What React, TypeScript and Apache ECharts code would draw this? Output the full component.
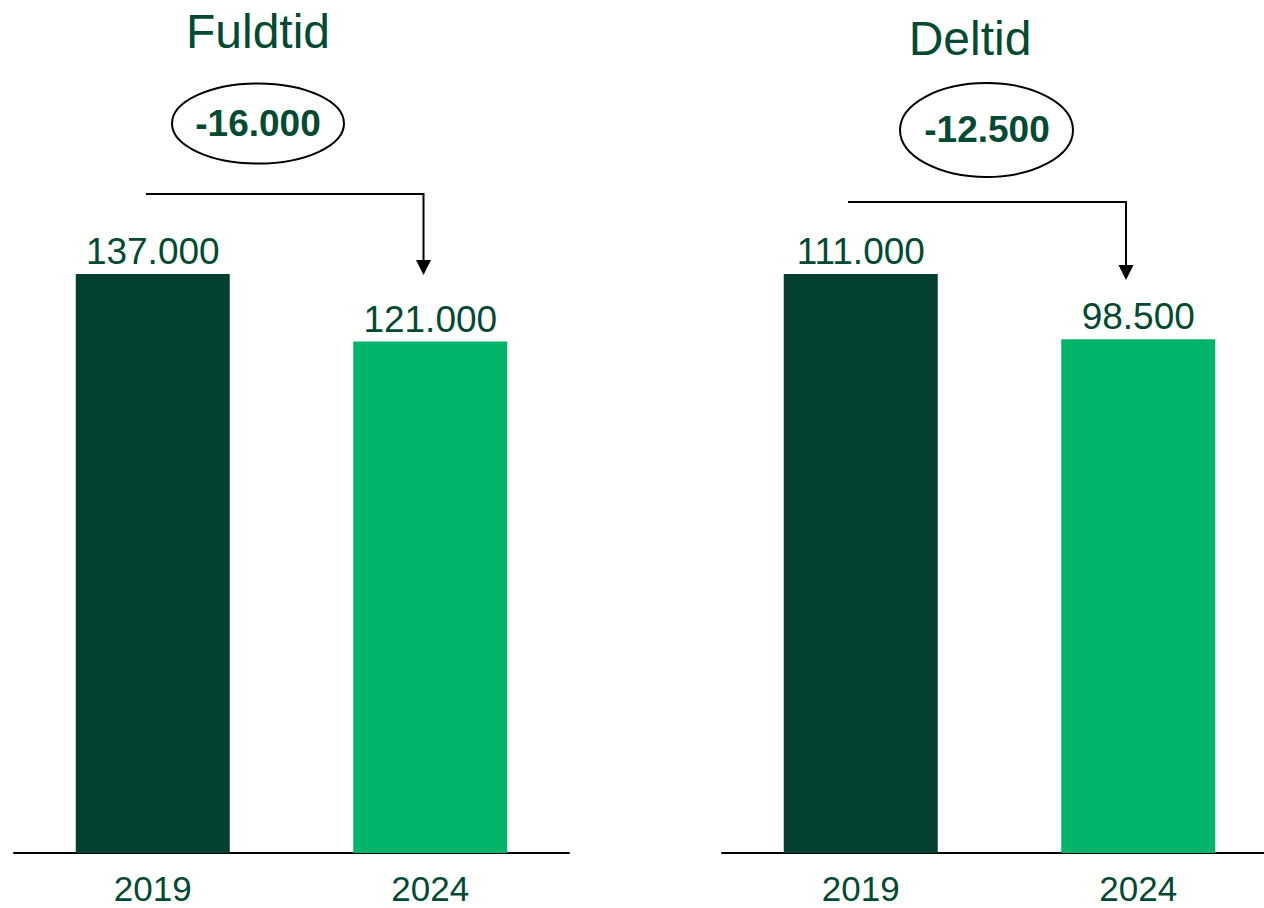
import React, { useEffect, useRef } from "react";
import * as echarts from "echarts";

const categories = ["2019", "2024"];
const fuldtidValues = [137000, 121000];
const deltidValues = [111000, 98500];
const panelTitles = ["Fuldtid", "Deltid"];
const barColors = ["#034030", "#00b56a"];
const textColor = "#034a33";
const FONT = "'Liberation Sans', Arial, sans-serif";

function fmt(v: number): string {
  const sign = v < 0 ? "-" : "";
  const s = Math.abs(Math.round(v)).toString();
  return sign + s.replace(/\B(?=(\d{3})+(?!\d))/g, ".");
}

export default function App() {
  const ref = useRef<HTMLDivElement>(null);
  useEffect(() => {
    if (!ref.current) return;
    const chart = echarts.init(ref.current, undefined, { renderer: "svg" });
    const fuldChange = fuldtidValues[1] - fuldtidValues[0];
    const delChange = deltidValues[1] - deltidValues[0];

    const makeSeries = (vals: number[], idx: number) => ({
      type: "bar",
      xAxisIndex: idx,
      yAxisIndex: idx,
      barWidth: 154,
      data: vals.map((v, i) => ({ value: v, itemStyle: { color: barColors[i] } })),
      label: {
        show: true,
        position: "top",
        distance: 4,
        color: textColor,
        fontSize: 37,
        fontFamily: FONT,
        formatter: (p: any) => fmt(p.value),
      },
    });

    const xAxis = (gi: number) => ({
      type: "category",
      gridIndex: gi,
      data: categories,
      axisLine: { show: true, lineStyle: { color: "#000", width: 2 } },
      axisTick: { show: false },
      axisLabel: { color: textColor, fontSize: 35, lineHeight: 28, fontFamily: FONT, margin: 21 },
      splitLine: { show: false },
    });
    const yAxis = (gi: number, max: number) => ({
      type: "value",
      gridIndex: gi,
      min: 0,
      max,
      show: false,
      splitLine: { show: false },
    });

    const arrow = (x0: number, x1: number, y: number, yEnd: number) => [
      {
        type: "polyline",
        shape: { points: [[x0, y], [x1, y], [x1, yEnd]] },
        style: { stroke: "#000", lineWidth: 2, fill: "none" },
      },
      {
        type: "polygon",
        shape: { points: [[x1 - 7.5, yEnd - 2], [x1 + 7.5, yEnd - 2], [x1, yEnd + 13]] },
        style: { fill: "#000" },
      },
    ];

    chart.setOption({
      animation: false,
      backgroundColor: "#fff",
      grid: [
        { left: 14, top: 274, width: 555, height: 579, containLabel: false, outerBoundsMode: "none" },
        { left: 722, top: 274, width: 555, height: 579, containLabel: false, outerBoundsMode: "none" },
      ],
      xAxis: [xAxis(0), xAxis(1)],
      yAxis: [yAxis(0, fuldtidValues[0]), yAxis(1, deltidValues[0])],
      series: [makeSeries(fuldtidValues, 0), makeSeries(deltidValues, 1)],
      graphic: [
        {
          type: "text",
          x: 258,
          y: 31,
          style: { text: panelTitles[0], fill: textColor, fontSize: 48, fontFamily: FONT, align: "center", verticalAlign: "middle" },
        },
        {
          type: "text",
          x: 970,
          y: 38,
          style: { text: panelTitles[1], fill: textColor, fontSize: 48, fontFamily: FONT, align: "center", verticalAlign: "middle" },
        },
        {
          type: "ellipse",
          shape: { cx: 258, cy: 123.5, rx: 86, ry: 40 },
          style: { fill: "none", stroke: "#000", lineWidth: 2 },
        },
        {
          type: "text",
          x: 258,
          y: 123,
          style: { text: fmt(fuldChange), fill: textColor, fontSize: 37, fontWeight: "bold", fontFamily: FONT, align: "center", verticalAlign: "middle" },
        },
        {
          type: "ellipse",
          shape: { cx: 986.5, cy: 130, rx: 86.5, ry: 47 },
          style: { fill: "none", stroke: "#000", lineWidth: 2 },
        },
        {
          type: "text",
          x: 987,
          y: 129,
          style: { text: fmt(delChange), fill: textColor, fontSize: 37, fontWeight: "bold", fontFamily: FONT, align: "center", verticalAlign: "middle" },
        },
        ...arrow(146, 423.5, 194, 262),
        ...arrow(848, 1126, 202, 267),
      ],
    });
    return () => chart.dispose();
  }, []);
  return (
    <div
      ref={ref}
      style={{ position: "absolute", left: 0, top: 0, width: 1264, height: 908 }}
    />
  );
}
